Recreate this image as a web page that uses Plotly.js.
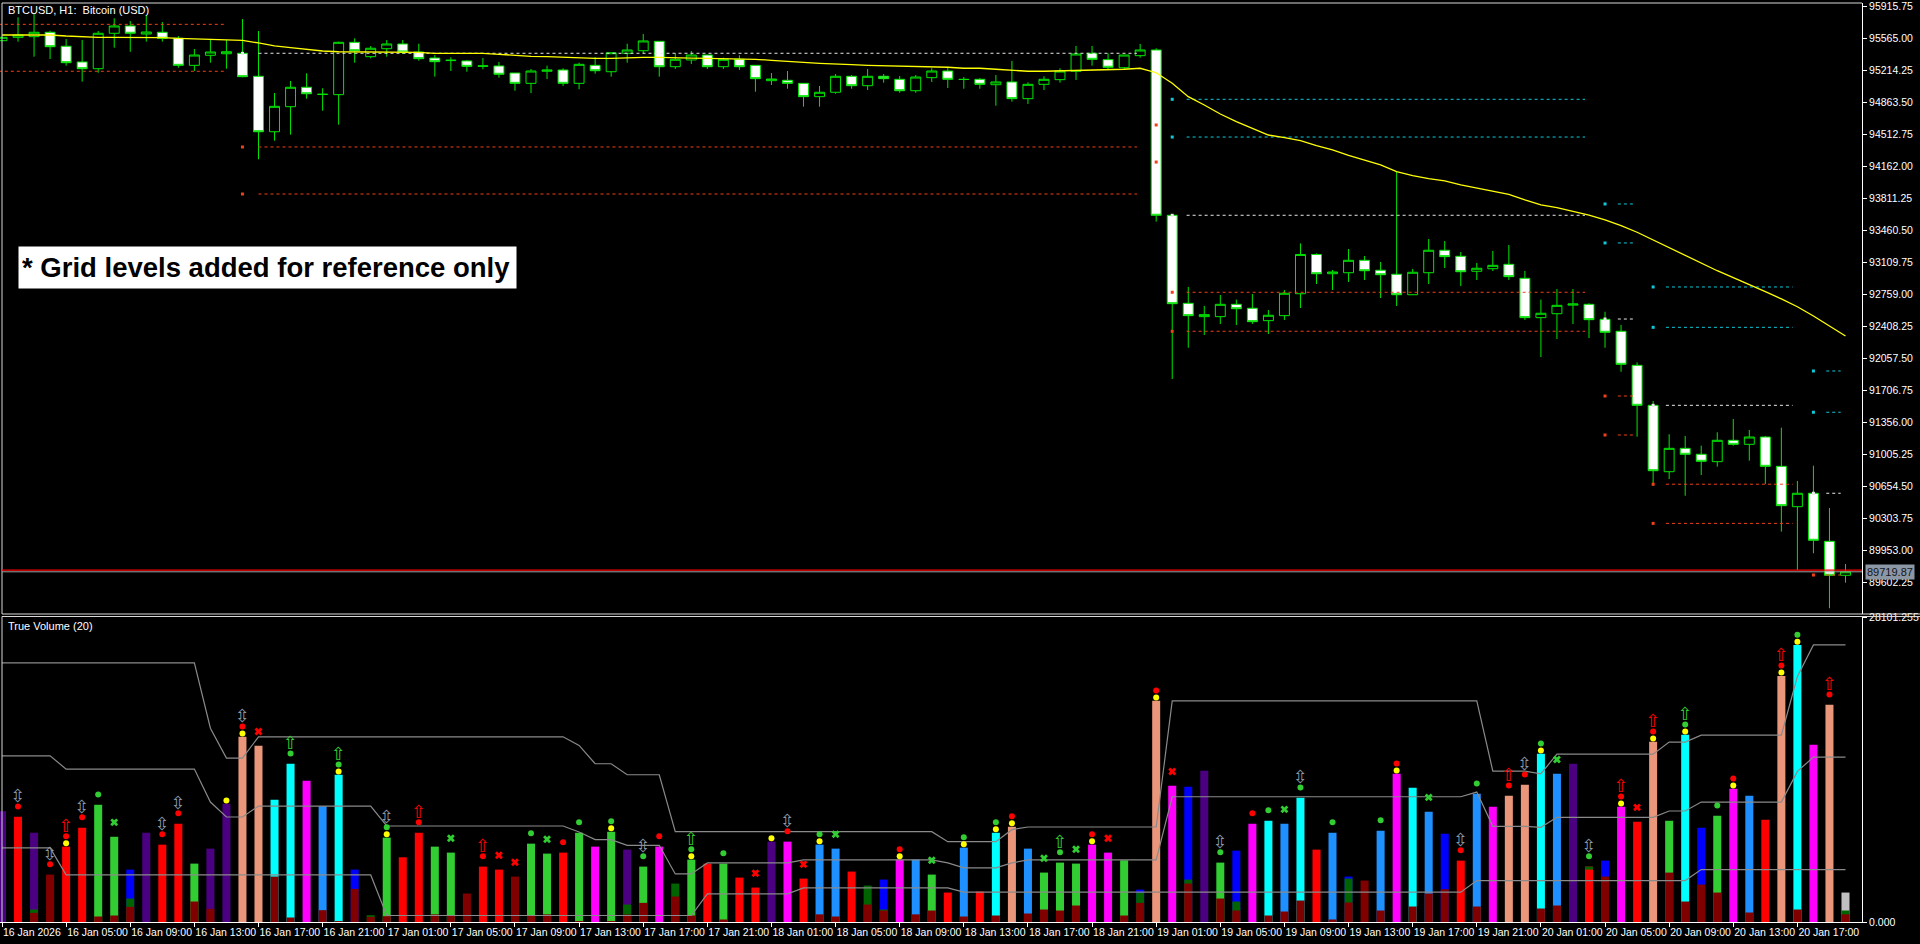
<!DOCTYPE html>
<html><head><meta charset="utf-8">
<script src="https://cdn.plot.ly/plotly-3.0.1.min.js"></script>
<style>html,body{margin:0;padding:0;background:#000;overflow:hidden}#chart{width:1920px;height:944px}</style>
</head><body><div id="chart"></div>
<script>
// ---------- price data (H1 candles, bar index 0 = 16 Jan 01:00) ----------
const openP = [95536,95573,95580,95628,95475,95303,95229,95617,95697,95609,
 95628,95562,95266,95376,95393,95398,95146,94539,94813,95026,
 94947,94945,95518,95361,95448,95500,95412,95346,95318,95314,
 95255,95259,95182,95069,95201,95215,95069,95266,95196,95398,
 95426,95529,95251,95325,95379,95251,95332,95266,95098,95102,
 95069,94923,94971,95146,95043,95146,95113,94988,95131,95204,
 95111,95113,95054,95084,94901,95058,95109,95201,95398,95328,
 95240,95372,95434,93624,92660,92514,92514,92649,92606,92470,
 92525,92765,93195,92984,92995,93131,93022,92978,92754,92995,
 93241,93175,93011,93039,93087,92934,92503,92546,92640,92649,
 92485,92354,91981,91543,90816,91072,91007,90926,91160,91116,
 91196,90875,90433,90580,90054,89682];
const highP = [95580,95792,95828,95645,95554,95544,95642,95781,95752,95817,
 95741,95587,95445,95544,95544,95773,95642,94963,95095,95179,
 95015,95525,95562,95478,95544,95544,95503,95379,95354,95325,
 95346,95303,95182,95226,95262,95234,95295,95357,95404,95503,
 95609,95529,95398,95423,95379,95350,95376,95266,95182,95204,
 95069,95040,95171,95160,95226,95171,95149,95160,95234,95251,
 95138,95127,95160,95314,95080,95146,95234,95478,95478,95398,
 95379,95500,95453,93635,92839,92631,92751,92701,92762,92587,
 92806,93316,93206,93025,93255,93178,93113,94101,93036,93364,
 93343,93222,93102,93233,93299,93014,92701,92817,92817,92660,
 92568,92423,92014,91591,91226,91207,91101,91248,91393,91273,
 91207,91298,90715,90882,90419,89806];
const lowP = [95530,95525,95361,95335,95262,95087,95185,95459,95415,95525,
 95525,95240,95204,95295,95229,95135,94237,94441,94507,94901,
 94769,94616,95295,95343,95361,95390,95317,95142,95204,95196,
 95223,95131,94988,94963,95116,95040,95004,95174,95142,95295,
 95398,95142,95226,95281,95226,95226,95215,94977,95051,95010,
 94813,94813,94955,95010,94996,95076,94966,94966,95084,95018,
 95010,95010,94824,94868,94843,94996,95076,95106,95262,95215,
 95226,95350,93554,91831,92174,92313,92434,92423,92434,92324,
 92478,92609,92872,92806,92894,92915,92718,92631,92754,92872,
 93047,92850,92915,93014,92915,92478,92072,92269,92434,92280,
 92174,91911,91199,90663,90736,90553,90780,90871,91101,90937,
 90682,90160,89740,89923,89321,89601];
const closeP = [95573,95598,95628,95470,95295,95229,95617,95697,95617,95631,
 95562,95266,95379,95412,95415,95142,94539,94817,95026,94955,
 94949,95518,95426,95453,95500,95412,95339,95306,95322,95255,
 95260,95168,95069,95204,95215,95069,95277,95207,95404,95434,
 95533,95251,95332,95379,95251,95332,95251,95120,95116,95069,
 94923,94971,95146,95043,95146,95120,94988,95138,95204,95113,
 95112,95058,95084,94901,95058,95113,95204,95390,95332,95245,
 95379,95434,93624,92656,92525,92536,92649,92601,92459,92529,
 92770,93195,92984,93003,93131,93017,92973,92754,93000,93241,
 93171,93006,93044,93076,92952,92503,92551,92638,92653,92481,
 92343,91992,91543,90827,91072,91007,90930,91160,91116,91196,
 90875,90444,90580,90065,89682,89719.87];
const maValues = [95598,95598,95598,95598,95587,95576,95573,95573,95573,95576,
 95569,95562,95558,95551,95551,95540,95511,95478,95459,95442,
 95423,95415,95415,95415,95415,95415,95409,95398,95398,95398,
 95398,95387,95372,95365,95361,95354,95346,95343,95343,95350,
 95354,95354,95354,95346,95343,95339,95339,95332,95321,95314,
 95299,95288,95277,95273,95266,95262,95256,95248,95245,95245,
 95234,95234,95223,95212,95201,95201,95204,95207,95212,95215,
 95223,95234,95185,95069,94923,94832,94733,94649,94577,94503,
 94474,94441,94386,94339,94281,94230,94175,94101,94058,94025,
 94000,93956,93920,93890,93854,93792,93737,93707,93668,93627,
 93573,93510,93438,93354,93269,93182,93098,93017,92941,92868,
 92787,92708,92623,92521,92412,92302];
const currentBid = 89719.87;
const currentAsk = 89738;

const xTickLabels = ['16 Jan 2026','16 Jan 05:00','16 Jan 09:00','16 Jan 13:00','16 Jan 17:00','16 Jan 21:00',
 '17 Jan 01:00','17 Jan 05:00','17 Jan 09:00','17 Jan 13:00','17 Jan 17:00','17 Jan 21:00',
 '18 Jan 01:00','18 Jan 05:00','18 Jan 09:00','18 Jan 13:00','18 Jan 17:00','18 Jan 21:00',
 '19 Jan 01:00','19 Jan 05:00','19 Jan 09:00','19 Jan 13:00','19 Jan 17:00','19 Jan 21:00',
 '20 Jan 01:00','20 Jan 05:00','20 Jan 09:00','20 Jan 13:00','20 Jan 17:00'];
const priceTicks = [95915.75,95565.00,95214.25,94863.50,94512.75,94162.00,93811.25,93460.50,93109.75,
 92759.00,92408.25,92057.50,91706.75,91356.00,91005.25,90654.50,90303.75,89953.00,89602.25];
const volTicks = [0, 28101.255];
const volTickLabels = ['0.000', '28101.255'];

// ---------- grid levels (drawn for reference) ----------
const levelDotBar  = [-1, 15, 72, 73, 100, 103, 113];
const levelFromBar = [-0.2, 16, null, 73.9, 100.8, 103.8, 113.8];
const levelToBar   = [14, 70.8, null, 98.75, 101.75, 111.7, 114.7];
const levelWhite   = [null, 95398, null, 93624, 92488, 91543, 90580];
const levelCyanHi  = [null, null, null, 94894, 93748, 92839, 91919];
const levelCyanLo  = [null, null, null, 94481, 93321, 92397, 91467];
const levelRedHi   = [95715, 94372, 94613, 92781, 91645, 90679, 89685];
const levelRedLo   = [95201, 93857, 94207, 92354, 91218, 90250, null];

// ---------- True Volume (20) ----------
const volTotal = [10194,9704,8232,4369,6944,8692,10808,7864,4829,8232,
 7128,9060,5381,6760,10900,17062,16234,11268,14579,13015,
 10654,13567,4829,628,7772,5963,8232,6944,6393,2621,
 5105,4829,4185,7220,6301,6393,8232,6944,8324,6669,
 5105,6944,3541,5749,5381,5381,4093,3173,7404,7404,
 4001,7128,6760,4645,3357,3909,5749,5749,4369,2713,
 6852,2805,8232,8784,6760,4553,5473,5381,7128,6393,
 5687,2989,20374,12555,12463,13935,5473,6577,9060,9336,
 9060,11452,6669,8232,4185,3817,8416,13659,12371,10164,
 8140,5657,11819,10624,11635,12647,15499,13659,14579,5105,
 5657,10624,9244,16602,9336,17246,8692,9796,12279,11635,
 9428,22673,25524,16326,20006,2713];
const volClass = ['P','R','P','M','R','R','LG','LG','B','P',
 'R','R','LG','P','P','S','S','C','C','MG',
 'DB','C','B','DG','LG','R','R','LG','LG','M',
 'R','R','M','LG','LG','R','LG','MG','LG','P',
 'LG','MG','DG','LG','R','LG','R','R','P','MG',
 'R','DB','DB','R','DG','B','MG','DB','LG','R',
 'DB','R','C','S','DB','LG','LG','LG','MG','MG',
 'LG','B','S','MG','B','P','LG','B','MG','C',
 'DB','C','R','DB','B','M','DB','MG','C','DB',
 'B','R','DB','MG','S','S','C','DB','P','R',
 'B','MG','R','S','LG','C','B','LG','MG','DB',
 'R','S','C','MG','S','SV'];
const volUpper = [0,0,1150,0,0,0,0,0,2162,0,
 0,0,0,0,0,0,0,0,0,0,
 0,0,0,0,0,0,0,0,0,0,
 0,0,0,0,0,0,0,0,0,1610,
 0,0,0,0,0,0,0,0,0,0,
 0,0,0,0,0,1150,0,0,0,0,
 0,0,0,0,0,0,0,0,0,0,
 0,2683,0,0,3909,0,0,1886,0,0,
 0,0,0,0,4001,0,0,0,0,0,
 0,0,0,0,0,0,0,0,0,5105,
 0,0,0,0,0,0,0,0,0,0,
 0,0,0,0,0,1058];
const volLower = [0,0,843,0,0,0,506,598,1395,0,
 0,0,1886,1211,0,0,0,4185,414,0,
 1088,90,3051,475,537,0,0,705,598,0,
 0,0,0,598,705,0,90,0,90,690,
 1763,0,2345,598,0,230,0,0,0,0,
 0,705,506,0,1610,1058,0,705,1058,0,
 506,0,598,0,782,1150,1058,1518,0,0,
 598,1763,0,0,3541,0,2162,1058,0,598,
 966,1978,0,230,1794,0,1058,0,1426,2621,
 3020,0,1426,0,0,0,1242,1518,0,4829,
 4185,0,0,0,4553,1886,3449,2713,0,874,
 0,0,1150,0,0,705];
const lowerRedBars = [99];
const bandHigh = [23869,23869,23869,23869,23869,23869,23869,23869,23869,23869,
 23869,23869,23869,17859,15100,15100,17062,17062,17062,17062,
 17062,17062,17062,17062,17062,17062,17062,17062,17062,17062,
 17062,17062,17062,17062,17062,17062,16265,14579,14579,13567,
 13567,13567,8324,8324,8324,8324,8324,8324,8324,8324,
 8324,8324,8324,8324,8324,8324,8324,8324,8324,7404,
 7404,7404,7404,8508,8753,8753,8753,8753,8753,8753,
 8753,8753,8753,20374,20374,20374,20374,20374,20374,20374,
 20374,20374,20374,20374,20374,20374,20374,20374,20374,20374,
 20374,20374,20374,13904,13904,13904,13659,15468,15468,15468,
 15468,15468,15468,15468,16571,16571,17215,17215,17215,17215,
 17215,17215,22612,25524,25524,25524];
const bandMid = [15315,15315,15315,15315,14088,14088,14088,14088,14088,14088,
 14088,14088,14088,11053,9673,9673,10685,10685,10685,10685,
 10685,10685,10685,10685,8845,8845,8845,8845,8845,8845,
 8845,8845,8845,8845,8845,8845,8294,7588,7588,7067,
 7067,7067,4430,4430,5442,5442,5442,5442,5442,5442,
 5718,5718,5718,5718,5718,5718,5718,5718,5718,5442,
 4982,4982,4982,5442,5718,5718,5718,5718,5718,5718,
 5718,5718,5718,11540,11540,11540,11540,11540,11540,11540,
 11540,11540,11540,11540,11540,11540,11540,11540,11540,11540,
 11540,11540,11973,8815,8815,8815,8723,9643,9643,9643,
 9643,9643,9643,9643,10225,10225,11053,11053,11053,11053,
 11053,11053,13874,15192,15192,15192];
const bandLow = [6822,6822,6822,6822,4338,4338,4338,4338,4338,4338,
 4338,4338,4338,4338,4338,4338,4338,4338,4338,4338,
 4338,4338,4338,4338,598,598,598,598,598,598,
 598,598,598,598,598,598,598,598,598,598,
 598,598,598,598,2591,2591,2591,2591,2591,2591,
 3143,3143,3143,3143,3143,3143,3143,3143,3143,3143,
 2750,2750,2750,2750,2750,2750,2750,2750,2750,2750,
 2750,2750,2750,2750,2750,2750,2750,2750,2750,2750,
 2750,2750,2750,2750,2750,2750,2750,2750,2750,2750,
 2750,2750,3817,3817,3817,3817,3817,3817,3817,3817,
 3817,3817,3817,3817,3817,3817,4829,4829,4829,4829,
 4829,4829,4829,4829,4829,4829];
// signal markers above the volume bars
const yellowBars = [4,14,15,21,24,38,43,48,51,56,60,62,63,68,72,87,96,101,103,105,108,111,112];
const redDotBars = [1,3,4,5,10,11,15,26,30,35,41,49,56,63,68,72,78,87,91,94,95,101,103,108,111,114];
const greenDotBars = [6,18,21,24,33,36,38,40,43,45,51,60,62,66,76,79,81,83,86,92,96,99,105,107,112];
const grayArrowBars = [1,3,5,10,11,15,24,40,49,76,81,91,95,99];
const redArrowBars = [4,26,30,94,101,103,111,114];
const greenArrowBars = [18,21,43,66,105];
const redCrossBars = [16,31,32,47,50,69,73,102];
const greenCrossBars = [7,28,34,52,58,65,67,80,89,97];

// ---------- styling ----------
const CLS = {P:'#4B0082', R:'#FF0000', M:'#800000', LG:'#32CD32', DG:'#006400', B:'#0000FF',
  DB:'#1E90FF', C:'#00FFFF', MG:'#FF00FF', S:'#E9967A', SV:'#C0C0C0'};
const PLOT_W = 1862, PLOT_H = 922;
const PRICE_DOMAIN = [(PLOT_H-614)/PLOT_H, (PLOT_H-3)/PLOT_H];
const VOL_DOMAIN = [0, 305/PLOT_H];
const PRICE_RANGE = [89257.9, 95948.6];
const VOL_RANGE = [0, 28101.255];
const X_RANGE = [-0.125, 116.03];
const volPx = (VOL_DOMAIN[1]*PLOT_H) / (VOL_RANGE[1]-VOL_RANGE[0]);
const FONT = 'Liberation Sans, Arial, sans-serif';

const idx = volTotal.map((_, i) => i);
const nz = a => a.map(v => v > 0 ? v : null);
const traces = [];

// level lines
function addLevel(vals, color) {
  const lx = [], ly = [], dx = [], dy = [];
  vals.forEach((v, k) => {
    if (v == null) return;
    if (levelFromBar[k] != null) { lx.push(levelFromBar[k], levelToBar[k], null); ly.push(v, v, null); }
    dx.push(levelDotBar[k]); dy.push(v);
  });
  traces.push({type:'scatter', mode:'lines', x:lx, y:ly, xaxis:'x', yaxis:'y',
    line:{color:color, width:1, dash:'3px,3px'}, hoverinfo:'skip', connectgaps:false});
  traces.push({type:'scatter', mode:'markers', x:dx, y:dy, xaxis:'x', yaxis:'y',
    marker:{symbol:'square', size:3, color:color}, hoverinfo:'skip'});
}
addLevel(levelRedHi, '#F04018');
addLevel(levelRedLo, '#F04018');
addLevel(levelCyanHi, '#10C8D8');
addLevel(levelCyanLo, '#10C8D8');
addLevel(levelWhite, '#E8E8E8');

traces.push({type:'candlestick', x:idx, open:openP, high:highP, low:lowP, close:closeP,
  xaxis:'x', yaxis:'y', whiskerwidth:0,
  increasing:{line:{color:'#00E600', width:1}, fillcolor:'#000000'},
  decreasing:{line:{color:'#00E600', width:1}, fillcolor:'#FFFFFF'},
  hoverinfo:'skip'});
traces.push({type:'scatter', mode:'lines', x:idx, y:maValues, xaxis:'x', yaxis:'y',
  line:{color:'#FFFF00', width:1.3}, hoverinfo:'skip'});

// volume histogram layers
traces.push({type:'bar', x:idx, y:volTotal, xaxis:'x', yaxis:'y2', width:0.5,
  marker:{color:volClass.map(c => CLS[c]), line:{width:0}}, hoverinfo:'skip'});
traces.push({type:'bar', x:idx, y:nz(volUpper), xaxis:'x', yaxis:'y2', width:0.5,
  marker:{color:CLS.DG, line:{width:0}}, hoverinfo:'skip'});
traces.push({type:'bar', x:idx, y:nz(volLower), xaxis:'x', yaxis:'y2', width:0.5,
  marker:{color:idx.map(i => lowerRedBars.includes(i) ? CLS.R : CLS.M), line:{width:0}}, hoverinfo:'skip'});
[bandHigh, bandMid, bandLow].forEach(b => traces.push({type:'scatter', mode:'lines', x:idx, y:b,
  xaxis:'x', yaxis:'y2', line:{color:'#8A8A8A', width:1.2}, hoverinfo:'skip'}));

const above = (bars, px) => bars.map(i => volTotal[i] + px/volPx);
function dots(bars, px, color) {
  traces.push({type:'scatter', mode:'markers', x:bars, y:above(bars, px), xaxis:'x', yaxis:'y2',
    marker:{symbol:'circle', size:6, color:color}, hoverinfo:'skip', cliponaxis:false});
}
function glyphs(bars, px, txt, color, size) {
  traces.push({type:'scatter', mode:'text', x:bars, y:above(bars, px), xaxis:'x', yaxis:'y2',
    text:bars.map(() => txt), textposition:'middle center',
    textfont:{family:'DejaVu Sans', size:size, color:color}, hoverinfo:'skip', cliponaxis:false});
}
function crosses(bars, px, color) {
  traces.push({type:'scatter', mode:'markers', x:bars, y:above(bars, px), xaxis:'x', yaxis:'y2',
    marker:{symbol:'x', size:7, color:color, line:{width:0}}, hoverinfo:'skip', cliponaxis:false});
}
dots(yellowBars, 3.3, '#FFFF00');
dots(redDotBars, 10.3, '#FF0000');
dots(greenDotBars, 10.3, '#32CD32');
crosses(redCrossBars, 14.3, '#FF0000');
crosses(greenCrossBars, 14.3, '#32CD32');
glyphs(grayArrowBars, 19, '\u21F3', '#8A98A8', 18);
glyphs(redArrowBars, 19, '\u21E7', '#FF0000', 18);
glyphs(greenArrowBars, 19, '\u21E7', '#32CD32', 18);

const px2x = p => p / PLOT_W, px2y = p => 1 - p / PLOT_H;
const borderCol = '#D8D8D8';
const shapes = [
  {type:'line', xref:'paper', yref:'paper', x0:px2x(2), x1:1, y0:px2y(3), y1:px2y(3), line:{color:borderCol, width:1}},
  {type:'line', xref:'paper', yref:'paper', x0:px2x(2), x1:px2x(1920), y0:px2y(614), y1:px2y(614), line:{color:borderCol, width:1}},
  {type:'line', xref:'paper', yref:'paper', x0:px2x(2), x1:px2x(1920), y0:px2y(616.5), y1:px2y(616.5), line:{color:borderCol, width:1}},
  {type:'line', xref:'paper', yref:'paper', x0:px2x(2), x1:px2x(2), y0:px2y(3), y1:px2y(614), line:{color:borderCol, width:1}},
  {type:'line', xref:'paper', yref:'paper', x0:px2x(2), x1:px2x(2), y0:px2y(616.5), y1:0, line:{color:borderCol, width:1}},
  {type:'line', xref:'paper', yref:'y', x0:px2x(2), x1:1, y0:currentBid, y1:currentBid, line:{color:'#A0A0A0', width:1}},
  {type:'line', xref:'paper', yref:'y', x0:px2x(2), x1:1, y0:currentAsk, y1:currentAsk, line:{color:'#FF0000', width:1.2}}
];

const annotations = [
  {xref:'paper', yref:'paper', x:px2x(6), y:px2y(10), xanchor:'left', yanchor:'middle', showarrow:false,
   text:'BTCUSD, H1:\u00a0 Bitcoin (USD)', font:{family:FONT, size:11, color:'#FFFFFF'}},
  {xref:'paper', yref:'paper', x:px2x(6), y:px2y(626), xanchor:'left', yanchor:'middle', showarrow:false,
   text:'True Volume (20)', font:{family:FONT, size:11, color:'#FFFFFF'}},
  {xref:'paper', yref:'paper', x:px2x(18), y:px2y(267.5), xanchor:'left', yanchor:'middle', showarrow:false,
   text:'<b>* Grid levels added for reference only</b>', align:'left', bgcolor:'#FFFFFF', borderpad:3,
   width:491, height:35, font:{family:'Liberation Sans, Arial, sans-serif', size:27.5, color:'#000000'}},
  {xref:'paper', yref:'y', x:px2x(1865), y:currentBid, xanchor:'left', yanchor:'middle', showarrow:false,
   text:currentBid.toFixed(2), bgcolor:'#8C97A6', borderpad:1, font:{family:FONT, size:11, color:'#101418'}}
];

const tickFont = {family:FONT, size:10.5, color:'#FFFFFF'};
const layout = {
  width:1920, height:944, paper_bgcolor:'#000000', plot_bgcolor:'#000000',
  margin:{l:0, r:1920-PLOT_W, t:0, b:944-PLOT_H}, showlegend:false, hovermode:false,
  barmode:'overlay', boxgap:0.38, boxgroupgap:0,
  xaxis:{range:X_RANGE, anchor:'y2', showgrid:false, zeroline:false, showline:true, linecolor:'#FFFFFF',
    tickvals:xTickLabels.map((_, k) => k*4), ticktext:xTickLabels, ticks:'outside', ticklen:4,
    tickcolor:'#FFFFFF', tickfont:tickFont, ticklabelposition:'outside right', tickangle:0,
    ticklabeloverflow:'allow', automargin:false, rangeslider:{visible:false}, fixedrange:true},
  yaxis:{domain:PRICE_DOMAIN, range:PRICE_RANGE, side:'right', anchor:'x', showgrid:false, zeroline:false,
    showline:true, linecolor:'#FFFFFF', tickvals:priceTicks, ticktext:priceTicks.map(v => v.toFixed(2)),
    ticks:'outside', ticklen:4, tickcolor:'#FFFFFF', tickfont:tickFont, ticklabeloverflow:'allow',
    automargin:false, fixedrange:true},
  yaxis2:{domain:VOL_DOMAIN, range:VOL_RANGE, side:'right', anchor:'x', showgrid:false, zeroline:false,
    showline:true, linecolor:'#FFFFFF', tickvals:volTicks, ticktext:volTickLabels,
    ticks:'outside', ticklen:4, tickcolor:'#FFFFFF', tickfont:tickFont, ticklabeloverflow:'allow',
    automargin:false, fixedrange:true},
  shapes:shapes, annotations:annotations
};
Plotly.newPlot('chart', traces, layout, {displayModeBar:false, staticPlot:true});
</script></body></html>
